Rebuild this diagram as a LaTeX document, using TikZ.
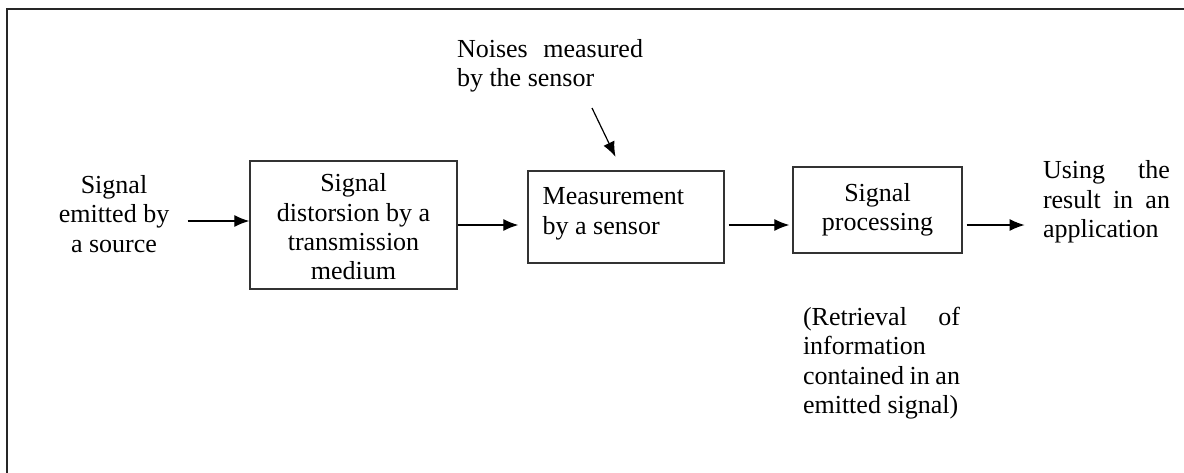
\documentclass[tikz,border=0pt]{standalone}
\usepackage{fontspec}
\setmainfont{Liberation Serif}
\usetikzlibrary{arrows.meta, positioning}
\tikzset{
  blk/.style ={rectangle, draw=black!80, line width=0.7pt, align=center, inner sep=0pt},
  txt/.style ={inner sep=0pt, font=\fontsize{13}{14.7}\selectfont},
  jst/.style ={txt, align=justify},
  fl/.style  ={-{Latex[length=7.5pt, width=6pt]}, line width=0.6pt},
}
\begin{document}
\begin{tikzpicture}[x=0.5pt, y=-0.5pt, >=Latex]
  \useasboundingbox (0,0) rectangle (1184,472);
  % outer frame, only top and left edges fall inside the page
  \draw[line width=1.2pt, black!85] (7,480) -- (7,9) -- (1195,9);

  \node[txt, align=center] (src) at (114,214) {Signal\\emitted by\\a source};
  \node[blk, txt, minimum width=103.5pt, minimum height=64pt] (dist) at (353.5,225)
    {\rule{0pt}{11pt}Signal\\distorsion by a\\transmission\\medium};
  \node[blk, minimum width=98pt, minimum height=46pt] (meas) at (626,217) {};
  \node[txt, align=left, anchor=north west] (meastxt) at ([xshift=7.5pt, yshift=-8.5pt]meas.north west)
    {Measurement\\by a sensor};
  \node[blk, txt, minimum width=84.5pt, minimum height=43pt] (proc) at (877.5,210)
    {Signal\\processing};

  \node[jst, text width=93pt] (noise) at (550,66) {Noises measured\linebreak by the sensor};
  \node[jst, text width=63.5pt] (out) at (1106.5,202)
    {Using the\linebreak result in an\linebreak application};
  \node[jst, text width=78.5pt] (retr) at (881.5,363)
    {(Retrieval of\linebreak information\\ contained in an\linebreak emitted signal)};

  \coordinate (nz) at (592,108);
  \draw[fl, shorten <=9pt] ([yshift=-3.5pt]src.east) -- ([yshift=-3.5pt]src.east -| dist.west);
  \draw[fl, shorten >=4.5pt] (dist.east) -- (dist.east -| meas.west);
  \draw[fl, shorten <=2pt, shorten >=1.5pt] ([yshift=-4pt]meas.east) -- ([yshift=-4pt]meas.east -| proc.west);
  \draw[fl, shorten <=2pt] ([yshift=-7.5pt]proc.east) -- ([yshift=-7.5pt, xshift=-9pt]proc.east -| out.west);
  \draw[fl, shorten >=7.5pt] (nz) -- ([xshift=-2pt]meas.north);
\end{tikzpicture}
\end{document}
